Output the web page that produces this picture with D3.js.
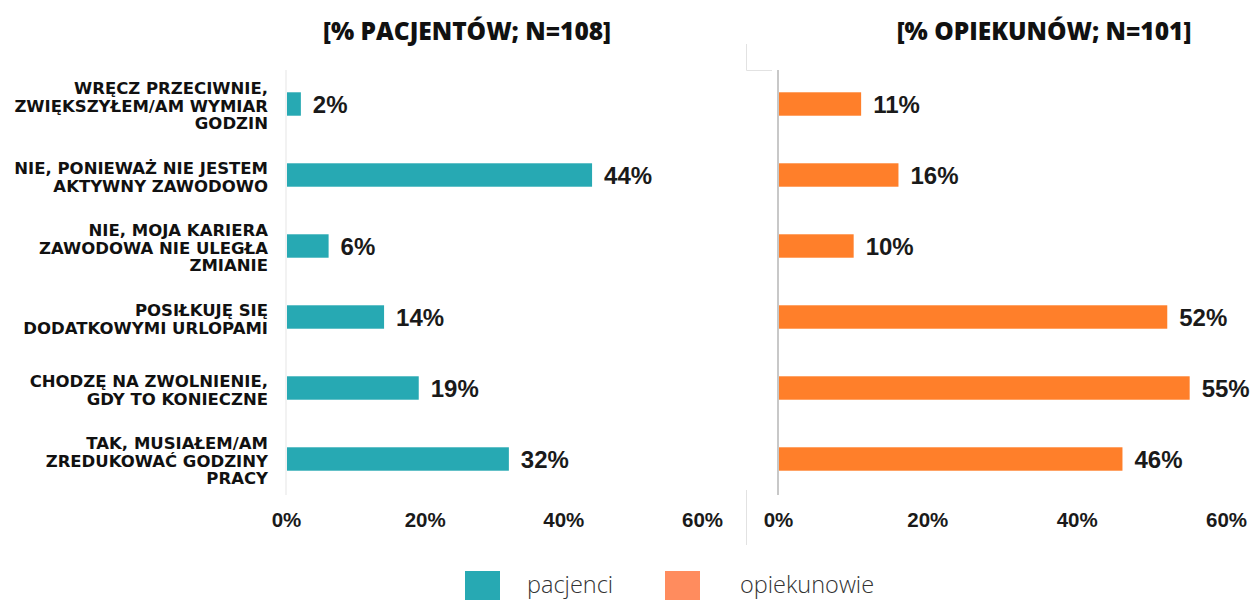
<!DOCTYPE html>
<html>
<head>
<meta charset="utf-8">
<script src="https://cdn.jsdelivr.net/npm/d3@7"></script>
<style>
  html, body { margin: 0; padding: 0; background: #fff; }
  svg { display: block; }
</style>
</head>
<body>
<div id="chart"></div>
<script>
// categories (each label split into its printed lines)
const categories = [
  ["WRĘCZ PRZECIWNIE,", "ZWIĘKSZYŁEM/AM WYMIAR", "GODZIN"],
  ["NIE, PONIEWAŻ NIE JESTEM", "AKTYWNY ZAWODOWO"],
  ["NIE, MOJA KARIERA", "ZAWODOWA NIE ULEGŁA", "ZMIANIE"],
  ["POSIŁKUJĘ SIĘ", "DODATKOWYMI URLOPAMI"],
  ["CHODZĘ NA ZWOLNIENIE,", "GDY TO KONIECZNE"],
  ["TAK, MUSIAŁEM/AM", "ZREDUKOWAĆ GODZINY", "PRACY"]
];
const pacjenci = [2, 44, 6, 14, 19, 32];
const opiekunowie = [11, 16, 10, 52, 55, 46];
const ticks = [0, 20, 40, 60];
const titles = ["[% PACJENTÓW; N=108]", "[% OPIEKUNÓW; N=101]"];
const legendLabels = ["pacjenci", "opiekunowie"];

const width = 1259, height = 600;
const teal = "#27a9b3", orange = "#ff7f2a";
const legendColors = ["#27a9b3", "#ff8c5e"];

const svg = d3.select("#chart").append("svg")
  .attr("width", width)
  .attr("height", height);

const y = d3.scaleBand()
  .domain(d3.range(categories.length))
  .range([68.5, 494.5])
  .paddingInner(0.67)
  .paddingOuter(0.335);

const panels = [
  { values: pacjenci, color: teal, x: d3.scaleLinear().domain([0, 60]).range([286, 702]), title: titles[0], titleX: 467, axisColor: "#f2f2f2" },
  { values: opiekunowie, color: orange, x: d3.scaleLinear().domain([0, 60]).range([778, 1226]), title: titles[1], titleX: 1044, axisColor: "#c8c8c8" }
];

// stray frame lines in the source image
const frame = svg.append("g").attr("stroke", "#e2e2e2").attr("stroke-width", 1).attr("fill", "none");
frame.append("path").attr("d", "M746.5,44V70.5H772");
frame.append("path").attr("d", "M746.5,490V545");

panels.forEach(p => {
  const g = svg.append("g");

  g.append("text")
    .attr("x", p.titleX)
    .attr("y", 40)
    .attr("text-anchor", "middle")
    .attr("font-family", "'Open Sans', sans-serif")
    .attr("font-weight", 800)
    .attr("font-size", 24.5)
    .attr("fill", "#111")
    .text(p.title);

  g.append("line")
    .attr("x1", p.x(0)).attr("x2", p.x(0))
    .attr("y1", 70).attr("y2", 495)
    .attr("stroke", p.axisColor)
    .attr("stroke-width", 2);

  g.selectAll("rect")
    .data(p.values)
    .join("rect")
    .attr("x", p.x(0) + 1)
    .attr("y", (d, i) => y(i))
    .attr("width", d => p.x(d) - p.x(0))
    .attr("height", y.bandwidth())
    .attr("fill", p.color);

  g.selectAll("text.val")
    .data(p.values)
    .join("text")
    .attr("class", "val")
    .attr("x", d => p.x(d) + 13)
    .attr("y", (d, i) => y(i) + y.bandwidth() / 2)
    .attr("dy", "0.36em")
    .attr("font-family", "'Liberation Sans', Arial, sans-serif")
    .attr("font-weight", "bold")
    .attr("font-size", 24)
    .attr("fill", "#1a1a1a")
    .text(d => d + "%");

  const axis = g.append("g")
    .attr("transform", "translate(0,527)")
    .call(d3.axisBottom(p.x).tickValues(ticks).tickFormat(d => d + "%").tickSize(0).tickPadding(0));
  axis.select(".domain").remove();
  axis.selectAll("text")
    .attr("dy", 0)
    .attr("font-family", "'Liberation Sans', Arial, sans-serif")
    .attr("font-weight", "bold")
    .attr("font-size", 20.5)
    .attr("fill", "#1a1a1a");
});

// category labels
const lineH = 17.5;
const lab = svg.append("g")
  .attr("font-family", "'DejaVu Sans', sans-serif")
  .attr("font-weight", "bold")
  .attr("font-size", 16.5)
  .attr("fill", "#111")
  .attr("text-anchor", "end");

lab.selectAll("text")
  .data(categories)
  .join("text")
  .attr("y", (d, i) => y(i) + y.bandwidth() / 2 + 2 - (d.length - 1) * lineH / 2)
  .each(function(lines) {
    d3.select(this).selectAll("tspan")
      .data(lines)
      .join("tspan")
      .attr("x", 268)
      .attr("dy", (l, j) => j === 0 ? "0.36em" : lineH)
      .text(l => l);
  });

// legend
const legendX = [465, 665];
const legendTextX = [527, 740];
const leg = svg.append("g");
legendLabels.forEach((t, i) => {
  leg.append("rect")
    .attr("x", legendX[i]).attr("y", 571)
    .attr("width", 35).attr("height", 35)
    .attr("fill", legendColors[i]);
  leg.append("text")
    .attr("x", legendTextX[i])
    .attr("y", 593)
    .attr("font-family", "'Open Sans', sans-serif")
    .attr("font-weight", 300)
    .attr("font-size", 23.5)
    .attr("fill", "#333")
    .text(t);
});
</script>
</body>
</html>
